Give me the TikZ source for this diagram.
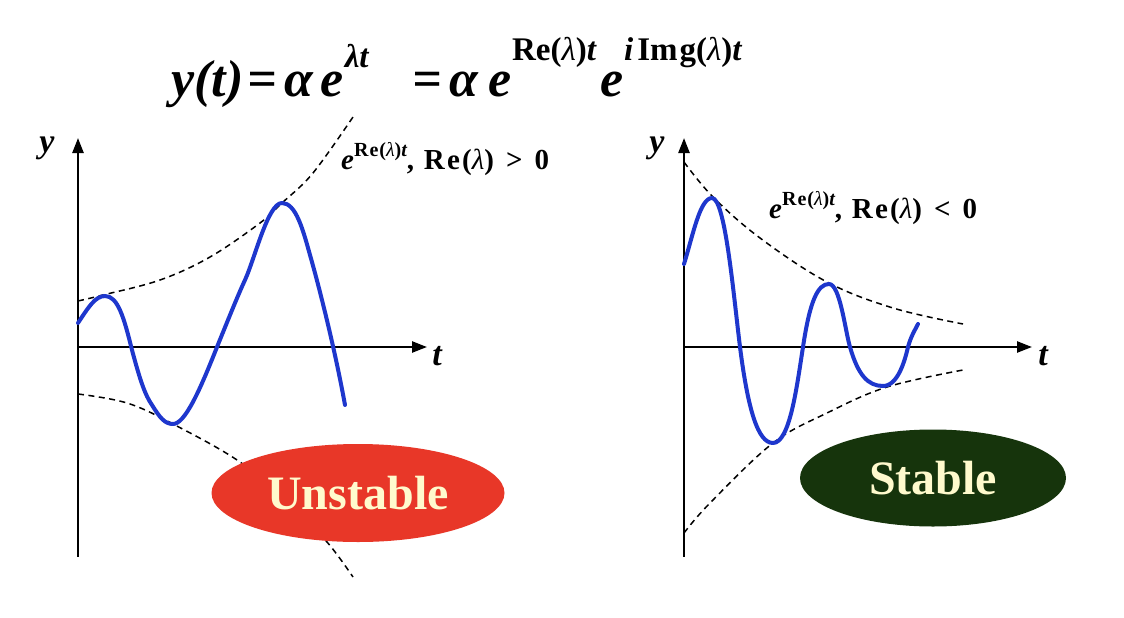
\documentclass[tikz,border=0pt]{standalone}
\usepackage{fontspec}
\setmainfont{Liberation Serif}
\usetikzlibrary{arrows.meta,shapes.geometric}
\definecolor{curveblue}{RGB}{30,55,205}
\definecolor{unstred}{RGB}{232,55,40}
\definecolor{stabgreen}{RGB}{22,52,12}
\definecolor{cream}{RGB}{255,250,205}
\newcommand{\lam}{{\mdseries\itshape λ}}
\newcommand{\bigsup}[2]{\raisebox{#1}{\fontsize{33}{33}\selectfont #2}}
\newcommand{\smallsup}[1]{\raisebox{13pt}{\fontsize{20}{20}\selectfont\addfontfeature{LetterSpace=5} #1}}
\begin{document}
\begin{tikzpicture}[x=1pt,y=-1pt,
  axisline/.style={line width=2.4pt,-{Triangle[length=15pt,width=11pt]}},
  envline/.style={line width=1.5pt,dash pattern=on 6pt off 4.5pt},
  sigline/.style={line width=4pt,curveblue,line cap=round,line join=round},
  axlabel/.style={font=\fontsize{34}{34}\selectfont\bfseries\itshape,inner sep=0pt},
  envlabel/.style={font=\fontsize{29}{29}\selectfont\bfseries,anchor=base west,inner sep=0pt},
  badge/.style={ellipse,inner sep=0pt,font=\fontsize{48}{48}\selectfont\bfseries,text=cream}]
\useasboundingbox (0,0) rectangle (1124,618);
\fill[white] (0,0) rectangle (1124,618);

% title
\node[anchor=base west,inner sep=0pt,font=\fontsize{52}{52}\selectfont\bfseries\itshape] (title) at (171,96)
 {y(t)\kern4pt=\kern8pt α\kern7pt e\kern1pt\bigsup{29pt}{λt}\hspace{44pt}=\kern7pt α\kern10pt e\kern1pt\bigsup{36pt}{\upshape Re(\lam)\itshape t}\kern4pt e\kern1pt\bigsup{36pt}{i\kern4pt\upshape Im\kern2pt g(\lam)\itshape t}};

% ---------- left panel ----------
\coordinate (Lo) at (78,347);
\coordinate (Lbot) at (78,557);
\coordinate (Ltop) at (78,138);
\coordinate (Lright) at (427,347);
\draw[line width=2.4pt] (Lo) -- (Lbot);
\draw[axisline] (Lo) -- (Ltop);
\draw[axisline] (Lo) -- (Lright);
\node[axlabel] (Ly) at (47,148) {y};
\node[axlabel] (Lt) at (437,356) {t};

\draw[envline] plot[smooth,tension=0.6] coordinates {(78,301) (103,295) (160,280) (210,257) (260,223) (282,203) (313,173) (353,117)};
\draw[envline] plot[smooth,tension=0.6] coordinates {(78,394) (127,403) (173,424) (240,462) (290,505) (327,542) (353,577)};

\draw[sigline] (78,323) .. controls (88,308) and (95,296) .. (105,296)
  .. controls (118,296) and (124,318) .. (132,350)
  .. controls (140,380) and (145,395) .. (152,405)
  .. controls (160,418) and (165,424) .. (173,424)
  .. controls (185,424) and (200,390) .. (217,347)
  .. controls (228,320) and (238,295) .. (245,280)
  .. controls (255,258) and (268,203) .. (282,203)
  .. controls (296,203) and (303,230) .. (310,255)
  .. controls (320,290) and (335,350) .. (345,405);

\node[envlabel] (Llab) at (341,169) {\itshape e\smallsup{\upshape Re(\lam)\itshape t}\upshape\addfontfeature{LetterSpace=8}, Re(\lam)\kern12pt>\kern12pt0};

\node[badge,fill=unstred,minimum width=293pt,minimum height=98pt] (unst) at (358,493) {Unstable};

% ---------- right panel ----------
\coordinate (Ro) at (684,347);
\coordinate (Rbot) at (684,557);
\coordinate (Rtop) at (684,138);
\coordinate (Rright) at (1032,347);
\draw[line width=2.4pt] (Ro) -- (Rbot);
\draw[axisline] (Ro) -- (Rtop);
\draw[axisline] (Ro) -- (Rright);
\node[axlabel] (Ry) at (657,148) {y};
\node[axlabel] (Rt) at (1043,356) {t};

\draw[envline] plot[smooth,tension=0.6] coordinates {(684,162) (713,197) (760,238) (827,282) (893,308) (963,324)};
\draw[envline] plot[smooth,tension=0.6] coordinates {(684,533) (710,503) (773,443) (827,413) (887,387) (963,370)};

\draw[sigline] (684,264) .. controls (693,235) and (700,198) .. (712,198)
  .. controls (725,198) and (733,290) .. (740,347)
  .. controls (748,410) and (758,443) .. (773,443)
  .. controls (790,443) and (797,385) .. (803,347)
  .. controls (810,300) and (818,284) .. (829,284)
  .. controls (840,284) and (845,330) .. (850,347)
  .. controls (858,375) and (868,386) .. (883,386)
  .. controls (898,386) and (905,360) .. (908,347)
  .. controls (911,336) and (915,330) .. (918,324);

\node[envlabel] (Rlab) at (769,218) {\itshape e\smallsup{\upshape Re(\lam)\itshape t}\upshape\addfontfeature{LetterSpace=8}, Re(\lam)\kern12pt<\kern12pt0};

\node[badge,fill=stabgreen,minimum width=266pt,minimum height=97pt] (stab) at (933,478) {Stable};
\end{tikzpicture}
\end{document}
